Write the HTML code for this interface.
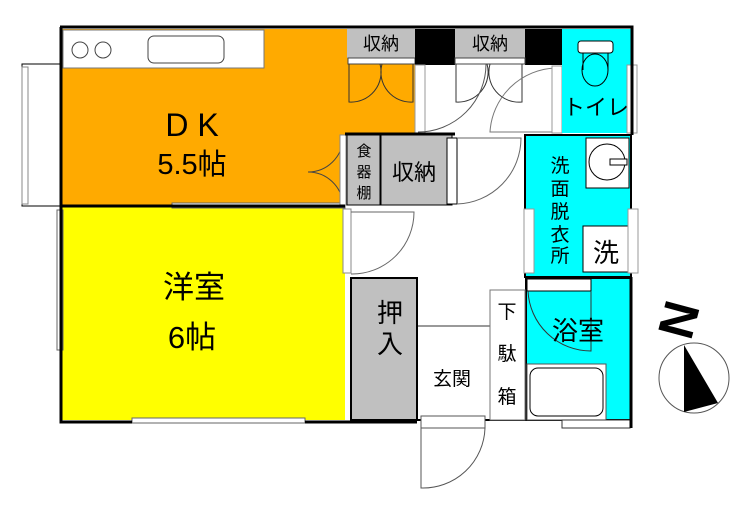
<!DOCTYPE html>
<html><head><meta charset="utf-8"><style>
html,body{margin:0;padding:0;background:#fff;width:750px;height:514px;overflow:hidden}
text{font-family:"Liberation Sans","Noto Sans CJK JP",sans-serif;fill:#000}
</style></head><body>
<svg width="750" height="514" viewBox="0 0 750 514" xmlns="http://www.w3.org/2000/svg">
<polygon points="62,29 415,29 415,134 345,134 345,205 62,205" fill="#FFAA00"/>
<rect x="63" y="30" width="201" height="38" fill="#fff" stroke="#777" stroke-width="1"/>
<circle cx="80" cy="50" r="8" fill="none" stroke="#444"/>
<circle cx="103" cy="50" r="8" fill="none" stroke="#444"/>
<rect x="148" y="36" width="76" height="27" rx="6" fill="none" stroke="#444"/>
<text x="192" y="136" font-size="32" text-anchor="middle">D K</text>
<text x="192" y="174" font-size="29" text-anchor="middle">5.5帖</text>
<rect x="22" y="64" width="38" height="142" fill="#fff" stroke="#000" stroke-width="1"/>
<rect x="22" y="67" width="6" height="137" fill="#fff" stroke="#888"/>
<rect x="62" y="207" width="283" height="213" fill="#FFFF00"/>
<rect x="57" y="210" width="6" height="140" fill="#fff" stroke="#666"/>
<rect x="172" y="203" width="173" height="5" fill="#fff" stroke="#666"/>
<rect x="132" y="418" width="173" height="5" fill="#fff" stroke="#666"/>
<text x="194" y="298" font-size="31" text-anchor="middle">洋室</text>
<text x="192" y="348" font-size="31" text-anchor="middle">6帖</text>
<rect x="347" y="29" width="68" height="29" fill="#c0c0c0"/>
<text x="381" y="50" font-size="18" text-anchor="middle">収納</text>
<rect x="348" y="58" width="67" height="6" fill="#fff" stroke="#444"/>
<path d="M349,64 V102 H349 A30,30 0 0 0 380,64 M413,64 V102 A30,30 0 0 1 382,64" fill="none" stroke="#333"/>
<rect x="415" y="29" width="40" height="36" fill="#000"/>
<rect x="525" y="29" width="37" height="36" fill="#000"/>
<rect x="455" y="29" width="70" height="29" fill="#c0c0c0"/>
<text x="490" y="50" font-size="18" text-anchor="middle">収納</text>
<rect x="455" y="58" width="70" height="6" fill="#fff" stroke="#444"/>
<path d="M456,64 V102 A30,30 0 0 0 487,64 M522,64 V102 A30,30 0 0 1 490,64" fill="none" stroke="#333"/>
<rect x="415" y="65" width="10" height="68" fill="#fff" stroke="#999"/>
<path d="M418,132 A68,68 0 0 0 486,64" fill="none" stroke="#555"/>
<path d="M556,68 A68,68 0 0 0 490,132 H553" fill="none" stroke="#777"/>
<rect x="552" y="66" width="10" height="67" fill="#fff" stroke="#999"/>
<rect x="562" y="29" width="69" height="104" fill="#00FFFF"/>
<rect x="578" y="41" width="35" height="12" rx="3" fill="#fff" stroke="#000"/>
<path d="M583,53 V70 M608,53 V70" stroke="#000"/>
<ellipse cx="595" cy="70" rx="13" ry="16" fill="none" stroke="#000"/>
<text x="596" y="115" font-size="22" text-anchor="middle">トイレ</text>
<rect x="627" y="65" width="10" height="68" fill="#fff" stroke="#999"/>
<path d="M343,138 A35,35 0 0 1 308,172 A35,35 0 0 1 343,205" fill="none" stroke="#444"/>
<rect x="340" y="135" width="6" height="70" fill="#fff" stroke="#888"/>
<rect x="347" y="135" width="33" height="70" fill="#c0c0c0" stroke="#000"/>
<g font-size="15" text-anchor="middle"><text x="364" y="156">食</text><text x="364" y="177">器</text><text x="364" y="198">棚</text></g>
<rect x="381" y="135" width="71" height="70" fill="#c0c0c0" stroke="#000"/>
<text x="414" y="180" font-size="22" text-anchor="middle">収納</text>
<rect x="447" y="138" width="10" height="66" fill="#fff" stroke="#000"/>
<path d="M457,138 H521 A66,66 0 0 1 457,204" fill="none" stroke="#666"/>
<rect x="343" y="209" width="8" height="64" fill="#fff" stroke="#888"/>
<path d="M351,212 H414 A62,62 0 0 1 351,274" fill="none" stroke="#666"/>
<rect x="525" y="135" width="106" height="142" fill="#00FFFF" stroke="#000" stroke-width="2"/>
<rect x="586" y="138" width="43" height="50" fill="#fff" stroke="#000"/>
<circle cx="607" cy="162" r="18" fill="none" stroke="#000"/>
<rect x="610" y="159" width="17" height="6" fill="#fff" stroke="#000"/>
<rect x="583" y="226" width="45" height="46" fill="#fff" stroke="#000"/>
<text x="606" y="262" font-size="26" text-anchor="middle">洗</text>
<rect x="524" y="209" width="10" height="64" fill="#fff" stroke="#999"/>
<rect x="628" y="209" width="10" height="64" fill="#fff" stroke="#999"/>
<g font-size="19" text-anchor="middle"><text x="560" y="172">洗</text><text x="560" y="195">面</text><text x="560" y="218">脱</text><text x="560" y="241">衣</text><text x="560" y="262">所</text></g>
<rect x="526" y="278" width="105" height="142" fill="#00FFFF" stroke="#000" stroke-width="2"/>
<rect x="527" y="279" width="64" height="12" fill="#fff" stroke="#000"/>
<path d="M528,291 A63,63 0 0 0 591,351 V291" fill="none" stroke="#333"/>
<text x="578" y="340" font-size="26" text-anchor="middle">浴室</text>
<rect x="527" y="364" width="79" height="56" fill="#fff" stroke="#555"/>
<rect x="530" y="368" width="73" height="48" rx="8" fill="none" stroke="#000"/>
<rect x="562" y="420" width="68" height="8" fill="#fff" stroke="#333"/>
<rect x="351" y="278" width="66" height="142" fill="#c0c0c0" stroke="#000" stroke-width="2"/>
<text x="390" y="322" font-size="26" text-anchor="middle">押</text>
<text x="390" y="353" font-size="26" text-anchor="middle">入</text>
<path d="M418,326 H490" stroke="#333"/>
<path d="M417,420 H525" stroke="#000" stroke-width="2"/>
<text x="452" y="385" font-size="19" text-anchor="middle">玄関</text>
<rect x="490" y="290" width="35" height="130" fill="#fff" stroke="#777"/>
<g font-size="19" text-anchor="middle"><text x="507" y="318">下</text><text x="507" y="360">駄</text><text x="507" y="403">箱</text></g>
<rect x="421" y="416" width="64" height="12" fill="#fff" stroke="#555"/>
<path d="M421,428 V488 A62,62 0 0 0 485,428" fill="none" stroke="#555"/>
<g stroke="#000" stroke-width="3" fill="none">
<path d="M60,27 H632 V135"/>
<path d="M61,27 V206 H345"/>
<path d="M61,206 V422 H132 M305,422 H417"/>
<path d="M345,134 H455"/>
<path d="M631,277 V428"/>
</g>
<text x="680" y="336" font-size="50" font-weight="bold" text-anchor="middle" transform="rotate(-75 680 320)">N</text>
<circle cx="694" cy="378" r="35" fill="#fff" stroke="#555"/>
<polygon points="684,345 718,403 684,412" fill="#000"/>
</svg>
</body></html>
